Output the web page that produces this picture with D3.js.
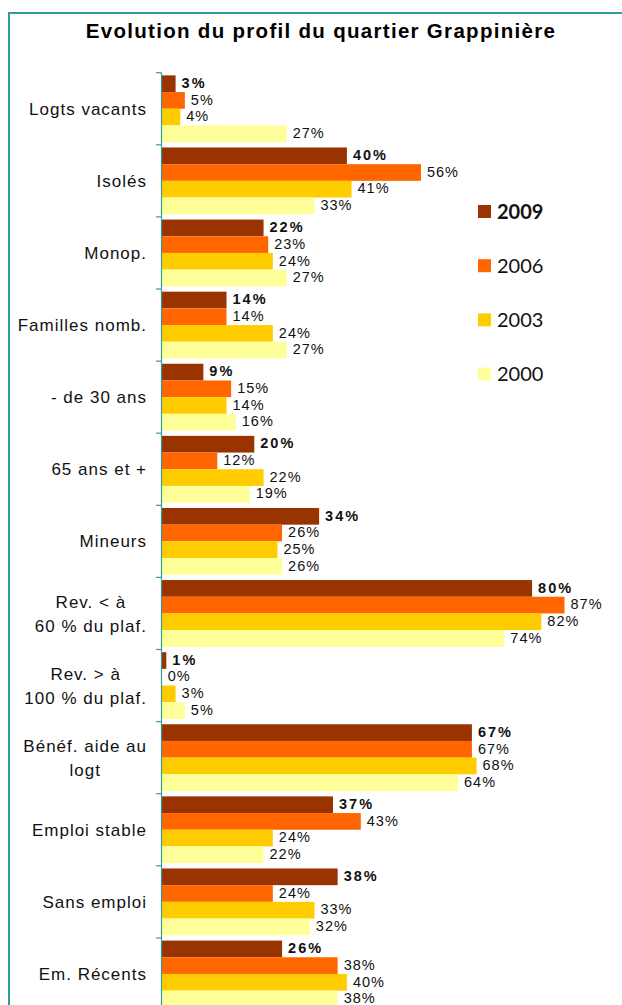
<!DOCTYPE html>
<html>
<head>
<meta charset="utf-8">
<script src="https://cdn.jsdelivr.net/npm/d3@7"></script>
<style>
  body { margin: 0; background: #fff; }
  svg { display: block; }
</style>
</head>
<body>
<svg id="plot"></svg>
<script>
// Chart values
var categories = ["Logts vacants", "Isolés", "Monop.", "Familles nomb.", "- de 30 ans", "65 ans et +", "Mineurs",
  "Rev. < à\n60 % du plaf.", "Rev. > à\n100 % du plaf.", "Bénéf. aide au\nlogt", "Emploi stable", "Sans emploi", "Em. Récents"];
var years = ["2009", "2006", "2003", "2000"];
var v2009 = [3, 40, 22, 14, 9, 20, 34, 80, 1, 67, 37, 38, 26];
var v2006 = [5, 56, 23, 14, 15, 12, 26, 87, 0, 67, 43, 24, 38];
var v2003 = [4, 41, 24, 24, 14, 22, 25, 82, 3, 68, 24, 33, 40];
var v2000 = [27, 33, 27, 27, 16, 19, 26, 74, 5, 64, 22, 32, 38];
var colors = ["#993300", "#ff6600", "#ffcc00", "#ffff99"];

var series = [v2009, v2006, v2003, v2000];
var data = categories.map(function(c, i) {
  return { cat: c, vals: years.map(function(y, j) { return { year: y, v: series[j][i] }; }) };
});

var width = 622, height = 1005;
var svg = d3.select('#plot')
  .attr('width', width)
  .attr('height', height);

// frame
svg.append('rect')
  .attr('x', 9).attr('y', 13)
  .attr('width', 640).attr('height', 1040)
  .attr('fill', 'none')
  .attr('stroke', '#2f9b9b')
  .attr('stroke-width', 2);

// title
svg.append('text')
  .attr('x', 321)
  .attr('y', 38)
  .attr('text-anchor', 'middle')
  .style('font-family', 'Liberation Sans, Arial, sans-serif')
  .style('font-weight', 'bold')
  .style('font-size', '20.5px')
  .style('letter-spacing', '1.3px')
  .text('Evolution du profil du quartier Grappinière');

// scales
var x = d3.scaleLinear()
  .domain([0, 100])
  .range([161.7, 624.7]);

var y = d3.scaleBand()
  .domain(categories)
  .range([72.7, 72.7 + 13 * 72.1])
  .padding(0);

var yInner = d3.scaleBand()
  .domain(years)
  .range([0, y.bandwidth()])
  .paddingInner(0)
  .paddingOuter(0.16);

var color = d3.scaleOrdinal().domain(years).range(colors);

var groups = svg.selectAll('.grp')
  .data(data)
  .enter().append('g')
    .attr('class', 'grp')
    .attr('transform', function(d) { return 'translate(0,' + y(d.cat) + ')'; });

groups.selectAll('rect')
  .data(function(d) { return d.vals; })
  .enter().append('rect')
    .attr('x', x(0))
    .attr('y', function(d) { return yInner(d.year); })
    .attr('width', function(d) { return x(d.v) - x(0); })
    .attr('height', yInner.bandwidth())
    .attr('fill', function(d) { return color(d.year); });

groups.selectAll('.lbl')
  .data(function(d) { return d.vals; })
  .enter().append('text')
    .attr('class', 'lbl')
    .attr('x', function(d) { return x(d.v) + 6; })
    .attr('y', function(d) { return yInner(d.year) + yInner.bandwidth() / 2 - 1; })
    .attr('dy', '0.36em')
    .style('font-family', 'Liberation Sans, Arial, sans-serif')
    .style('font-size', '14.5px')
    .style('font-weight', function(d) { return d.year === '2009' ? 'bold' : 'normal'; })
    .style('letter-spacing', function(d) { return d.year === '2009' ? '2px' : '1px'; })
    .style('fill', '#111')
    .text(function(d) { return d.v + '%'; });

// category axis
var axisColor = '#3a9a9a';
svg.append('line')
  .attr('x1', 161.5).attr('x2', 161.5)
  .attr('y1', y.range()[0]).attr('y2', y.range()[1])
  .attr('stroke', axisColor).attr('stroke-width', 1.2);

var edges = categories.map(function(c) { return y(c); }).concat([y.range()[1]]);
svg.selectAll('.tick')
  .data(edges)
  .enter().append('line')
    .attr('class', 'tick')
    .attr('x1', 156).attr('x2', 161.5)
    .attr('y1', function(d) { return d; }).attr('y2', function(d) { return d; })
    .attr('stroke', axisColor).attr('stroke-width', 1.2);

// category labels; multi-line labels are centred as a block that ends at the right edge
var catLabels = svg.selectAll('.cat')
  .data(categories)
  .enter().append('text')
    .attr('class', 'cat')
    .attr('text-anchor', 'middle')
    .style('font-family', 'Liberation Sans, Arial, sans-serif')
    .style('font-size', '17px')
    .style('letter-spacing', '1px')
    .style('fill', '#111');

catLabels.each(function(c) {
  var lines = c.split('\n');
  var t = d3.select(this);
  var cy = y(c) + y.bandwidth() / 2;
  lines.forEach(function(l, i) {
    t.append('tspan')
      .attr('x', 0)
      .attr('y', cy + (i - (lines.length - 1) / 2) * 24)
      .attr('dy', '0.36em')
      .text(l);
  });
  var w = this.getBBox().width;
  t.selectAll('tspan').attr('x', 147 - w / 2);
});

// legend
var legend = svg.selectAll('.legend')
  .data(years)
  .enter().append('g')
    .attr('class', 'legend')
    .attr('transform', function(d, i) { return 'translate(478,' + (205 + i * 54.2) + ')'; });

legend.append('rect')
  .attr('width', 13)
  .attr('height', 13)
  .attr('fill', function(d) { return color(d); });

legend.append('text')
  .attr('x', 19)
  .attr('y', 6.5)
  .attr('dy', '0.36em')
  .style('font-family', 'Lato, sans-serif')
  .style('font-size', '20px')
  .style('font-weight', function(d) { return d === '2009' ? 'bold' : 'normal'; })
  .style('fill', '#111')
  .text(function(d) { return d; });
</script>
</body>
</html>
